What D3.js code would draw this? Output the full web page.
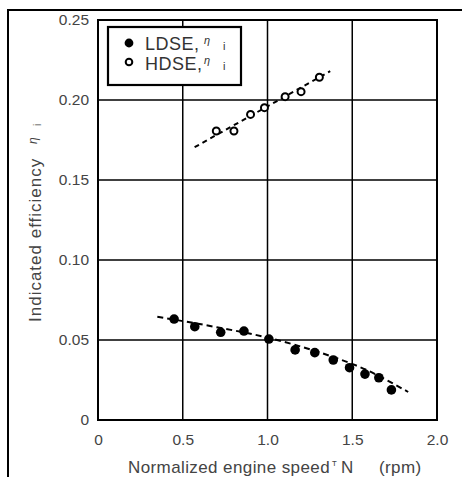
<!DOCTYPE html>
<html><head><meta charset="utf-8">
<script src="https://cdn.jsdelivr.net/npm/d3@7/dist/d3.min.js"></script>
<style>body{margin:0;background:#fff;} text{font-family:"Liberation Sans",Arial,sans-serif;}</style>
</head><body>
<svg id="c" width="462" height="477"></svg>
<script>
const xTicks = [0, 0.5, 1.0, 1.5, 2.0];
const xTickLabels = ["0", "0.5", "1.0", "1.5", "2.0"];
const yTicks = [0, 0.05, 0.10, 0.15, 0.20, 0.25];
const yTickLabels = ["0", "0.05", "0.10", "0.15", "0.20", "0.25"];

const ldseN   = [0.449, 0.571, 0.724, 0.861, 1.008, 1.163, 1.279, 1.388, 1.484, 1.575, 1.657, 1.731];
const ldseEta = [0.0631, 0.0583, 0.0548, 0.0556, 0.0506, 0.0438, 0.0421, 0.0375, 0.0327, 0.0287, 0.0264, 0.0188];
const hdseN   = [0.698, 0.802, 0.900, 0.982, 1.104, 1.198, 1.306];
const hdseEta = [0.1806, 0.1806, 0.191, 0.1952, 0.2021, 0.2052, 0.2142];

const ldseFitN   = [0.35, 0.70, 1.00, 1.30, 1.60, 1.83];
const ldseFitEta = [0.0645, 0.0580, 0.0515, 0.0425, 0.0305, 0.0175];
const hdseFitN   = [0.57, 1.37];
const hdseFitEta = [0.1705, 0.2180];

const svg = d3.select("#c");
const L = 98, R = 437, T = 20, B = 420;
const x = d3.scaleLinear().domain([0, 2]).range([L, R]);
const y = d3.scaleLinear().domain([0, 0.25]).range([B, T]);

// outer frame (left and top)
svg.append("path").attr("d", "M8,477 L8,10 L462,10").attr("fill", "none").attr("stroke", "#000").attr("stroke-width", 2);

// gridlines
const g = svg.append("g");
g.selectAll(".vx").data(xTicks.slice(1, -1)).enter().append("line")
  .attr("x1", d => x(d)).attr("x2", d => x(d)).attr("y1", T).attr("y2", B)
  .attr("stroke", "#000").attr("stroke-width", 1.5);
g.selectAll(".hy").data(yTicks.slice(1, -1)).enter().append("line")
  .attr("y1", d => y(d)).attr("y2", d => y(d)).attr("x1", L).attr("x2", R)
  .attr("stroke", "#000").attr("stroke-width", 1.5);
svg.append("rect").attr("x", L).attr("y", T).attr("width", R - L).attr("height", B - T)
  .attr("fill", "none").attr("stroke", "#000").attr("stroke-width", 2);

// axes labels via d3 axes (no lines)
const xAxis = svg.append("g").attr("transform", `translate(0,${B})`)
  .call(d3.axisBottom(x).tickValues(xTicks).tickFormat((d, i) => xTickLabels[i]).tickSize(0).tickPadding(14));
const yAxis = svg.append("g").attr("transform", `translate(${L},0)`)
  .call(d3.axisLeft(y).tickValues(yTicks).tickFormat((d, i) => yTickLabels[i]).tickSize(0).tickPadding(9));
[xAxis, yAxis].forEach(a => {
  a.select(".domain").remove();
  a.selectAll("text").attr("font-size", 15.5).attr("fill", "#444").attr("font-family", "'Liberation Sans',Arial,sans-serif");
});

// fit lines
const line = d3.line().x(d => x(d[0])).y(d => y(d[1])).curve(d3.curveMonotoneX);
svg.append("path").datum(ldseFitN.map((n, i) => [n, ldseFitEta[i]])).attr("d", line)
  .attr("fill", "none").attr("stroke", "#000").attr("stroke-width", 2).attr("stroke-dasharray", "6,4");
svg.append("path").datum(hdseFitN.map((n, i) => [n, hdseFitEta[i]])).attr("d", line)
  .attr("fill", "none").attr("stroke", "#000").attr("stroke-width", 2).attr("stroke-dasharray", "5,4");

// points
svg.selectAll(".ld").data(ldseN.map((n, i) => [n, ldseEta[i]])).enter().append("circle")
  .attr("cx", d => x(d[0])).attr("cy", d => y(d[1])).attr("r", 4.8).attr("fill", "#000");
svg.selectAll(".hd").data(hdseN.map((n, i) => [n, hdseEta[i]])).enter().append("circle")
  .attr("cx", d => x(d[0])).attr("cy", d => y(d[1])).attr("r", 3.5).attr("fill", "#fff")
  .attr("stroke", "#000").attr("stroke-width", 2);

// legend
const lg = svg.append("g");
lg.append("rect").attr("x", 108).attr("y", 27).attr("width", 133).attr("height", 58)
  .attr("fill", "#fff").attr("stroke", "#000").attr("stroke-width", 2.2);
lg.append("circle").attr("cx", 129).attr("cy", 43).attr("r", 4.4).attr("fill", "#000");
lg.append("circle").attr("cx", 129).attr("cy", 62).attr("r", 3.3).attr("fill", "#fff").attr("stroke", "#000").attr("stroke-width", 2);
function legText(yy, label) {
  const t = lg.append("text").attr("x", 145).attr("y", yy).attr("font-size", 18).attr("fill", "#333")
    .attr("letter-spacing", 0.5);
  t.append("tspan").text(label + ",");
  t.append("tspan").text("η").attr("x", 204).attr("font-style", "italic").attr("font-size", 11).attr("dy", -6);
  t.append("tspan").text("i").attr("x", 223).attr("font-size", 11).attr("dy", 6).attr("fill", "#333");
}
legText(50, "LDSE");
legText(70, "HDSE");

// axis titles
const xt = svg.append("text").attr("x", 128).attr("y", 473)
  .attr("font-size", 17).attr("fill", "#444").attr("letter-spacing", 0.4);
xt.append("tspan").text("Normalized engine speed");
xt.append("tspan").text("ᵀ").attr("x", 332).attr("font-size", 11).attr("dy", -4);
xt.append("tspan").text("N").attr("x", 341).attr("dy", 4);
xt.append("tspan").text("(rpm)").attr("x", 379);

const yt = svg.append("text").attr("transform", "translate(41,322) rotate(-90)")
  .attr("font-size", 17).attr("fill", "#444").attr("letter-spacing", 1.0);
yt.append("tspan").text("Indicated efficiency");
yt.append("tspan").text("η").attr("x", 178).attr("font-style", "italic").attr("font-size", 12).attr("dy", -4);
yt.append("tspan").text("i").attr("x", 196).attr("font-size", 10).attr("dy", 4);
</script>
</body></html>
